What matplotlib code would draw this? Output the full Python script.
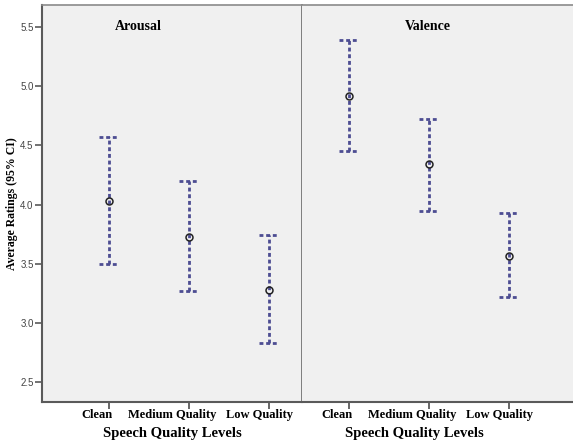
import matplotlib
matplotlib.use("Agg")
import matplotlib.pyplot as plt
import numpy as np

categories = ["Clean", "Medium Quality", "Low Quality"]
panels = ["Arousal", "Valence"]
arousal_mean = [4.03, 3.73, 3.28]
arousal_low = [3.50, 3.27, 2.83]
arousal_high = [4.57, 4.20, 3.74]
valence_mean = [4.92, 4.34, 3.57]
valence_low = [4.45, 3.95, 3.22]
valence_high = [5.39, 4.72, 3.93]
yticks = [2.5, 3.0, 3.5, 4.0, 4.5, 5.0, 5.5]

serif = ["Liberation Serif", "DejaVu Serif"]
sans = ["Liberation Sans", "DejaVu Sans"]
bar_color = "#4d4d92"
bg = "#f0f0f0"
spine_c = "#5a5a5a"
label_shift_px = [-12, -17, -10]

fig = plt.figure(figsize=(5.73, 4.43), dpi=100)
bottom = 1 - 402.3 / 443
top = 1 - 5 / 443
x0 = 42 / 573
xd = 302 / 573
ax1 = fig.add_axes([x0, bottom, xd - x0, top - bottom])
ax2 = fig.add_axes([xd, bottom, 1.0 - xd, top - bottom], sharey=ax1)

data = [(arousal_mean, arousal_low, arousal_high),
        (valence_mean, valence_low, valence_high)]
xlims = [(-0.8375, 2.4125), (-0.5875, 2.8)]
titles_xy = [(138, 27), (428, 26)]
xlabel_pos = [0.5, 0.413]

x = np.arange(len(categories))
for i, (ax, (m, lo, hi)) in enumerate(zip([ax1, ax2], data)):
    ax.set_facecolor(bg)
    ls = (0, (1.4, 1.0))
    ax.vlines(x, lo, hi, colors=bar_color, linewidth=2.0, linestyles=[ls])
    ax.hlines(lo, x - 0.125, x + 0.125, colors=bar_color, linewidth=2.0, linestyles=[ls])
    ax.hlines(hi, x - 0.125, x + 0.125, colors=bar_color, linewidth=2.0, linestyles=[ls])
    ax.plot(x, m, linestyle="none", marker="o", markersize=5,
            markerfacecolor="none", markeredgecolor="#222222", markeredgewidth=1.1, zorder=5)
    ax.set_xlim(*xlims[i])
    ax.set_ylim(2.331, 5.686)
    ax.set_xticks(x)
    ax.set_xticklabels([])
    for xi, cat, dx in zip(x, categories, label_shift_px):
        ax.annotate(cat, xy=(xi, 0), xycoords=("data", "axes fraction"),
                    xytext=(dx * 0.72, -5), textcoords="offset points",
                    ha="center", va="top", fontfamily=serif, fontweight="bold",
                    fontsize=9, annotation_clip=False)
    ax.set_xlabel("Speech Quality Levels", fontfamily=serif, fontweight="bold",
                  fontsize=10.5, labelpad=1)
    ax.xaxis.set_label_coords(xlabel_pos[i], -0.062)
    ax.xaxis.label.set_va("top")
    ax.tick_params(axis="x", length=5, width=1.3, color=spine_c, pad=2)
    tx, ty = titles_xy[i]
    fig.text(tx / 573, 1 - ty / 443, panels[i], fontfamily=serif, fontweight="bold",
             fontsize=10, ha="center", va="center")
    for s in ["left", "right", "top", "bottom"]:
        ax.spines[s].set_color(spine_c)
    ax.spines["bottom"].set_linewidth(1.5)
    ax.spines["top"].set_linewidth(1.2)
    ax.spines["top"].set_color("#8a8a8a")

ax1.set_yticks(yticks)
ax1.set_yticklabels([f"{v:.1f}" for v in yticks], fontfamily=sans, fontsize=7, color="#444444")
ax1.tick_params(axis="y", length=5, width=1.2, color=spine_c, pad=1)
ax1.spines["left"].set_linewidth(1.5)
ax1.spines["right"].set_linewidth(1.2)
ax1.spines["right"].set_color("#6a6a6a")
ax1.set_ylabel("Average Ratings (95% CI)", fontfamily=serif, fontweight="bold", fontsize=8.5, labelpad=2)
ax2.tick_params(axis="y", left=False, labelleft=False)
ax2.spines["left"].set_visible(False)
ax2.spines["right"].set_visible(False)

fig.savefig("out.png", dpi=100, facecolor="white")
